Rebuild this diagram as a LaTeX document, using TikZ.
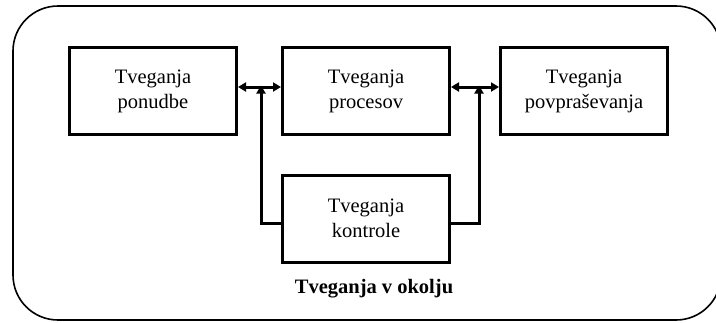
\documentclass[tikz,border=0pt]{standalone}
\usepackage{fontspec}
\setmainfont{Liberation Serif}
\usetikzlibrary{arrows.meta}
\begin{document}
\begin{tikzpicture}[x=1pt,y=-1pt,
  riskbox/.style={draw,line width=3pt,minimum width=167pt,minimum height=87pt,inner sep=0pt,align=center,font=\fontsize{20.5}{25}\selectfont},
  conn/.style={line width=3pt,-{Triangle[length=8pt,width=9pt]}},
  dconn/.style={line width=3pt,{Triangle[length=8pt,width=9pt]}-{Triangle[length=8pt,width=9pt]}}]
\useasboundingbox (0,0) rectangle (716,322);
\draw[line width=1.6pt,rounded corners=45pt] (13,6) rectangle (721,320);
\node[riskbox] (b1) at (153,91) {Tveganja\\ponudbe};
\node[riskbox] (b2) at (366,91) {Tveganja\\procesov};
\node[riskbox] (b3) at (584,91) {Tveganja\\povpraševanja};
\node[riskbox] (b4) at (366,218.5) {Tveganja\\kontrole};
\coordinate (j1) at (261,87);
\coordinate (j2) at (479,87);
\draw[dconn] (b1.east |- j1) -- (b2.west |- j1);
\draw[dconn] (b2.east |- j2) -- (b3.west |- j2);
\draw[conn] (b4.west |- 0,223) -| ([yshift=1.5pt]j1);
\draw[conn] (b4.east |- 0,223) -| ([yshift=1.5pt]j2);
\node[font=\fontsize{20.5}{24}\selectfont\bfseries,anchor=base] (lab) at (374,293) {Tveganja v okolju};
\end{tikzpicture}
\end{document}
